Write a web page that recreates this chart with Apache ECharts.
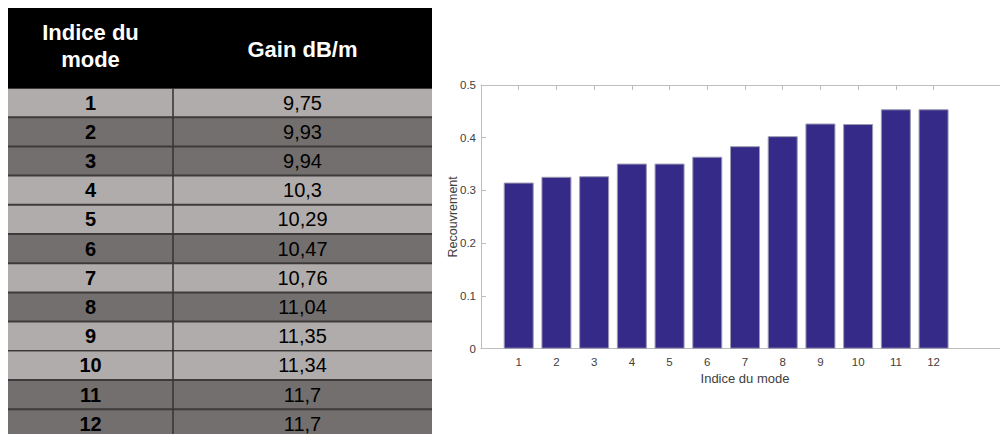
<!DOCTYPE html>
<html><head><meta charset="utf-8">
<script src="https://cdn.jsdelivr.net/npm/echarts@6/dist/echarts.min.js"></script>
<style>html,body{margin:0;padding:0;background:#fff;}#c{width:1000px;height:434px;}</style>
</head><body><div id="c"></div>
<script>
// ---- data ----
const modes = [1, 2, 3, 4, 5, 6, 7, 8, 9, 10, 11, 12];
const gains = [9.75, 9.93, 9.94, 10.3, 10.29, 10.47, 10.76, 11.04, 11.35, 11.34, 11.7, 11.7];
const recouvrement = [0.315, 0.326, 0.327, 0.351, 0.351, 0.364, 0.384, 0.403, 0.427, 0.426, 0.454, 0.454];
const tableHeaders = ['Indice du\nmode', 'Gain dB/m'];
const xAxisTitle = 'Indice du mode';
const yAxisTitle = 'Recouvrement';

// ---- styles ----
const FONT = '"Liberation Sans", Arial, sans-serif';
const LIGHT = '#b0acab', DARK = '#736f6e';
const rowShade = [0, 1, 1, 0, 0, 1, 0, 1, 0, 0, 1, 1];
const SPLIT = 165 / 424;
const AXIS_C = '#bdbdbd', LABEL_C = '#404040';
const fmtGain = v => String(v).replace('.', ',');

const chart = echarts.init(document.getElementById('c'), null, { renderer: 'svg' });

const tableRender = (params, api) => {
  const i = params.dataIndex;
  const c0 = api.coord([0, api.value(1)]);
  const c1 = api.coord([1, api.value(1)]);
  const h = api.size([0, 1])[1];
  const top = c0[1] - h / 2;
  const x0 = c0[0], x1 = c1[0];
  const xs = x0 + (x1 - x0) * SPLIT;
  const thin = i === 9;
  return {
    type: 'group',
    children: [
      { type: 'rect', shape: { x: x0, y: top, width: x1 - x0, height: h }, style: { fill: rowShade[i] ? DARK : LIGHT } },
      { type: 'line', shape: { x1: x0, y1: top, x2: x1, y2: top }, style: { stroke: thin ? '#000' : '#3c3a3a', lineWidth: thin ? 1 : 2 } },
      { type: 'line', shape: { x1: xs, y1: top, x2: xs, y2: top + h }, style: { stroke: '#333', lineWidth: 1.5 } },
      { type: 'text', style: { x: (x0 + xs) / 2, y: top + h / 2, text: String(modes[i]), fill: '#000',
          font: 'bold 20px ' + FONT, align: 'center', verticalAlign: 'middle', textAlign: 'center', textVerticalAlign: 'middle' } },
      { type: 'text', style: { x: (xs + x1) / 2, y: top + h / 2, text: fmtGain(gains[i]), fill: '#000',
          font: '20px ' + FONT, align: 'center', verticalAlign: 'middle', textAlign: 'center', textVerticalAlign: 'middle' } }
    ]
  };
};

const option = {
  backgroundColor: '#fff',
  animation: false,
  grid: [
    { left: 481, top: 85, width: 528, height: 263.7, outerBoundsMode: 'none', containLabel: false },
    { left: 8, top: 88, width: 424, height: 350.4, outerBoundsMode: 'none', containLabel: false }
  ],
  xAxis: [
    {
      type: 'value', gridIndex: 0, position: 'bottom', min: 0, max: 14, interval: 1,
      axisLine: { show: true, lineStyle: { color: AXIS_C, width: 1 } },
      axisTick: { show: true, inside: true, length: 5, customValues: modes, lineStyle: { color: AXIS_C } },
      axisLabel: { show: true, customValues: modes, color: LABEL_C, fontSize: 11.5, fontFamily: FONT, margin: 7 },
      splitLine: { show: false },
      name: xAxisTitle, nameLocation: 'middle', nameGap: 23, nameMoveOverlap: false,
      nameTextStyle: { color: LABEL_C, fontSize: 13, fontFamily: FONT }
    },
    {
      type: 'value', gridIndex: 0, position: 'top', min: 0, max: 14, interval: 1,
      axisLine: { show: true, lineStyle: { color: AXIS_C, width: 1 } },
      axisTick: { show: true, inside: true, length: 5, customValues: modes, lineStyle: { color: AXIS_C } },
      axisLabel: { show: false },
      splitLine: { show: false }
    },
    { type: 'value', gridIndex: 1, min: 0, max: 1, show: false }
  ],
  yAxis: [
    {
      type: 'value', gridIndex: 0, min: 0, max: 0.5, interval: 0.1,
      axisLine: { show: true, lineStyle: { color: AXIS_C, width: 1 } },
      axisTick: { show: true, inside: true, length: 5, lineStyle: { color: AXIS_C } },
      axisLabel: { show: true, color: LABEL_C, fontSize: 11.5, fontFamily: FONT, margin: 5 },
      splitLine: { show: false },
      name: yAxisTitle, nameLocation: 'middle', nameGap: 22, nameMoveOverlap: false,
      nameTextStyle: { color: LABEL_C, fontSize: 12.5, fontFamily: FONT }
    },
    { type: 'category', gridIndex: 1, inverse: true, data: modes.map(String), show: false }
  ],
  graphic: [
    { type: 'rect', shape: { x: 8, y: 8, width: 424, height: 80 }, style: { fill: '#000' }, z: 10 },
    { type: 'text', x: 90.5, y: 46, z: 11, style: { text: tableHeaders[0], fill: '#fff', font: 'bold 22px ' + FONT,
        align: 'center', verticalAlign: 'middle', textAlign: 'center', textVerticalAlign: 'middle', lineHeight: 27 } },
    { type: 'text', x: 302.5, y: 49, z: 11, style: { text: tableHeaders[1], fill: '#fff', font: 'bold 22px ' + FONT,
        align: 'center', verticalAlign: 'middle', textAlign: 'center', textVerticalAlign: 'middle' } }
  ],
  series: [
    {
      type: 'bar', xAxisIndex: 0, yAxisIndex: 0,
      data: modes.map((m, i) => [m, recouvrement[i]]),
      barWidth: 30,
      itemStyle: { color: '#352a87', borderColor: '#9c9bb2', borderWidth: 1 },
      silent: true
    },
    {
      type: 'custom', xAxisIndex: 2, yAxisIndex: 1,
      encode: { x: 0, y: 1 },
      data: modes.map((m, i) => [0, String(m), gains[i]]),
      renderItem: tableRender,
      silent: true
    }
  ]
};
chart.setOption(option);
</script>
</body></html>
